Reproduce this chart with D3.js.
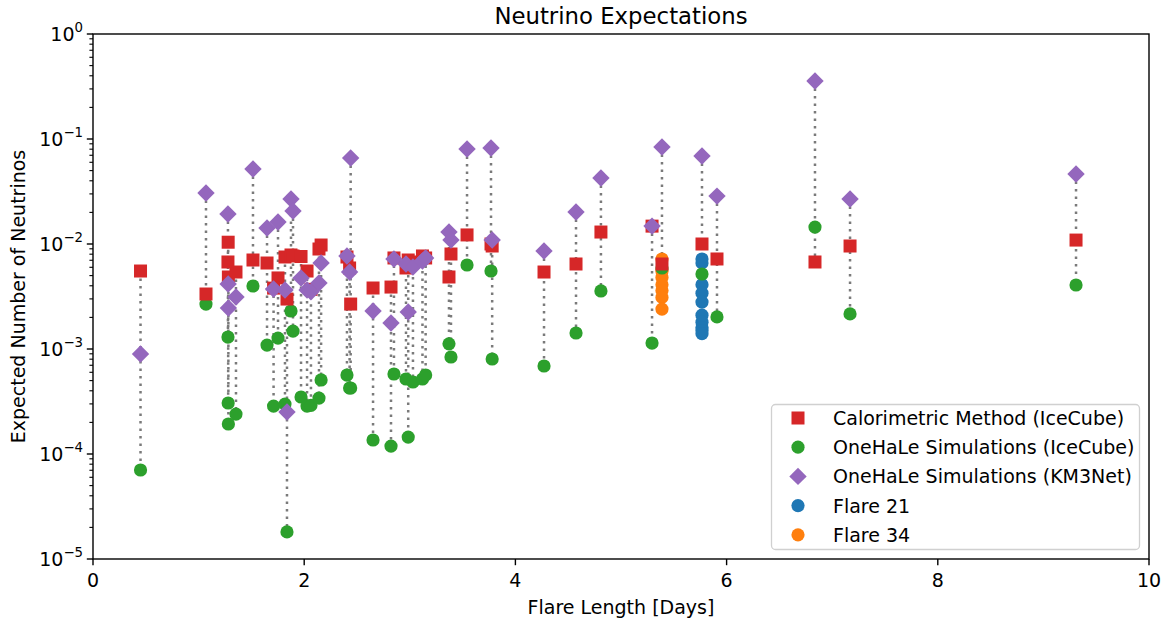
<!DOCTYPE html>
<html>
<head>
<meta charset="utf-8">
<script src="https://cdn.jsdelivr.net/npm/d3@7"></script>
<style>
  html, body { margin: 0; padding: 0; background: #fff; }
  svg { display: block; font-family: "DejaVu Sans", sans-serif; }
</style>
</head>
<body>
<svg id="chart" width="1168" height="618"></svg>
<script>
// ---------------- data ----------------
const flareLength = [0.45, 1.07, 1.278, 1.28, 1.282, 1.354, 1.515, 1.648, 1.752, 1.71,
  1.818, 1.837, 1.875, 1.894, 1.97, 2.027, 2.064, 2.14, 2.16, 2.405,
  2.43, 2.44, 2.652, 2.822, 2.85, 2.964, 2.985, 3.03, 3.12, 3.15,
  3.371, 3.39, 3.542, 3.769, 3.78, 4.271, 4.574, 4.81, 5.294, 5.388,
  5.767, 5.909, 6.837, 7.169, 9.309];
const calorimetric = [5.53e-3, 3.34e-3, 6.74e-3, 1.04e-2, 4.85e-3, 5.41e-3, 7.04e-3, 6.59e-3, 4.75e-3, 3.8e-3,
  7.52e-3, 2.99e-3, 7.86e-3, 7.69e-3, 7.6e-3, 5.53e-3, 3.7e-3, 8.96e-3, 9.78e-3, 7.52e-3,
  5.91e-3, 2.68e-3, 3.81e-3, 3.89e-3, 7.36e-3, 5.91e-3, 7.04e-3, 6.74e-3, 7.69e-3, 7.36e-3,
  4.85e-3, 8.03e-3, 1.22e-2, 1.0e-2, 9.57e-3, 5.41e-3, 6.45e-3, 1.30e-2, 1.48e-2, 6.45e-3,
  1.0e-2, 7.2e-3, 6.74e-3, 9.57e-3, 1.09e-2];
const oneHaLeIceCube = [7.04e-5, 2.68e-3, 1.30e-3, 3.06e-4, 1.93e-4, 2.40e-4, 3.98e-3, 1.09e-3, 1.27e-3, 2.86e-4,
  2.99e-4, 1.81e-5, 2.30e-3, 1.48e-3, 3.49e-4, 2.86e-4, 2.9e-4, 3.41e-4, 5.07e-4, 5.65e-4,
  4.25e-4, 4.25e-4, 1.36e-4, 1.19e-4, 5.78e-4, 5.18e-4, 1.45e-4, 4.85e-4, 5.18e-4, 5.65e-4,
  1.12e-3, 8.39e-4, 6.31e-3, 5.53e-3, 8.03e-4, 6.89e-4, 1.42e-3, 3.57e-3, 1.14e-3, 5.91e-3,
  5.18e-3, 2.02e-3, 1.45e-2, 2.16e-3, 4.07e-3];
const oneHaLeKM3Net = [8.96e-4, 3.06e-2, 1.93e-2, 4.16e-3, 2.46e-3, 3.13e-3, 5.18e-2, 1.42e-2, 1.62e-2, 3.73e-3,
  3.65e-3, 2.51e-4, 2.68e-2, 2.06e-2, 4.75e-3, 3.65e-3, 3.5e-3, 4.25e-3, 6.59e-3, 7.69e-3,
  5.41e-3, 6.59e-2, 2.30e-3, 1.77e-3, 7.2e-3, 6.45e-3, 2.25e-3, 6.04e-3, 6.89e-3, 7.36e-3,
  1.30e-2, 1.09e-2, 8.03e-2, 8.21e-2, 1.09e-2, 8.58e-3, 2.02e-2, 4.25e-2, 1.48e-2, 8.39e-2,
  6.89e-2, 2.86e-2, 0.357, 2.68e-2, 4.64e-2];
const flare21Length = 5.767;
const flare21Values = [7.2e-3, 6.6e-3, 4.1e-3, 3.4e-3, 2.8e-3, 2.1e-3, 1.8e-3, 1.6e-3, 1.5e-3, 1.4e-3];
const flare34Length = 5.388;
const flare34Values = [7.2e-3, 5.5e-3, 4.8e-3, 4.1e-3, 3.6e-3, 3.1e-3, 2.4e-3];
const xTicks = [0, 2, 4, 6, 8, 10];
const yTickExps = [0, -1, -2, -3, -4, -5];
const legendLabels = ["Calorimetric Method (IceCube)", "OneHaLe Simulations (IceCube)",
  "OneHaLe Simulations (KM3Net)", "Flare 21", "Flare 34"];

// ---------------- layout ----------------
const colors = { red: "#d62728", green: "#2ca02c", purple: "#9467bd", blue: "#1f77b4", orange: "#ff7f0e" };
const L = 93, R = 1149, T = 34, B = 559;
const FS = 19;
const svg = d3.select("#chart");
const x = d3.scaleLinear().domain([0, 10]).range([L, R]);
const y = d3.scaleLog().domain([1e-5, 1]).range([B, T]);

const flares = flareLength.map((d, i) => ({
  x: d, cal: calorimetric[i], ic: oneHaLeIceCube[i], km: oneHaLeKM3Net[i]
}));

const plot = svg.append("g");
plot.selectAll("line.conn").data(flares).join("line")
  .attr("class", "conn")
  .attr("x1", d => x(d.x)).attr("x2", d => x(d.x))
  .attr("y1", d => y(Math.max(d.cal, d.ic, d.km)))
  .attr("y2", d => y(Math.min(d.cal, d.ic, d.km)))
  .attr("stroke", "#7a7a7a").attr("stroke-width", 2.5)
  .attr("stroke-dasharray", "2.5,5");

const R_CIRC = 6.6, SQ = 13;
function circle(g, cx, cy, c) {
  g.append("circle").attr("cx", cx).attr("cy", cy).attr("r", R_CIRC).attr("fill", c);
}
function square(g, cx, cy, c) {
  g.append("rect").attr("x", cx - SQ / 2).attr("y", cy - SQ / 2).attr("width", SQ).attr("height", SQ).attr("fill", c);
}
function diamond(g, cx, cy, c) {
  const r = 8.7;
  g.append("path").attr("d", `M${cx},${cy - r}L${cx + r},${cy}L${cx},${cy + r}L${cx - r},${cy}Z`)
    .attr("fill", c);
}

flare21Values.forEach(v => circle(plot, x(flare21Length), y(v), colors.blue));
flare34Values.forEach(v => circle(plot, x(flare34Length), y(v), colors.orange));
flares.forEach(d => circle(plot, x(d.x), y(d.ic), colors.green));
flares.forEach(d => square(plot, x(d.x), y(d.cal), colors.red));
flares.forEach(d => diamond(plot, x(d.x), y(d.km), colors.purple));

// ---------------- axes ----------------
const axes = svg.append("g").attr("font-size", FS).attr("fill", "#000");
axes.append("rect").attr("x", L).attr("y", T).attr("width", R - L).attr("height", B - T)
  .attr("fill", "none").attr("stroke", "#000").attr("stroke-width", 1.4);

xTicks.forEach(t => {
  axes.append("line").attr("x1", x(t)).attr("x2", x(t)).attr("y1", B).attr("y2", B + 6.2)
    .attr("stroke", "#000").attr("stroke-width", 1.4);
  axes.append("text").attr("x", x(t)).attr("y", B + 28).attr("text-anchor", "middle").text(t);
});
yTickExps.forEach(e => {
  const v = Math.pow(10, e);
  axes.append("line").attr("x1", L - 6.2).attr("x2", L).attr("y1", y(v)).attr("y2", y(v))
    .attr("stroke", "#000").attr("stroke-width", 1.4);
  const t = axes.append("text").attr("x", L - 10).attr("y", y(v) + 7).attr("text-anchor", "end");
  t.append("tspan").text("10");
  t.append("tspan").attr("dy", -9).attr("font-size", 13.3).text(e === 0 ? "0" : "\u2212" + Math.abs(e));
  if (e > -5) {
    for (let k = 2; k <= 9; k++) {
      const mv = k * Math.pow(10, e - 1);
      axes.append("line").attr("x1", L - 3.6).attr("x2", L).attr("y1", y(mv)).attr("y2", y(mv))
        .attr("stroke", "#000").attr("stroke-width", 1.1);
    }
  }
});

svg.append("text").attr("x", (L + R) / 2).attr("y", 24).attr("text-anchor", "middle")
  .attr("font-size", 22.8).text("Neutrino Expectations");
svg.append("text").attr("x", (L + R) / 2).attr("y", 614).attr("text-anchor", "middle")
  .attr("font-size", FS).text("Flare Length [Days]");
svg.append("text").attr("transform", `translate(25,${(T + B) / 2}) rotate(-90)`)
  .attr("text-anchor", "middle").attr("font-size", FS).text("Expected Number of Neutrinos");

// ---------------- legend ----------------
const lg = svg.append("g");
lg.append("rect").attr("x", 771.5).attr("y", 404.5).attr("width", 368).attr("height", 145)
  .attr("rx", 4).attr("fill", "#fff").attr("fill-opacity", 0.8)
  .attr("stroke", "#d0d0d0").attr("stroke-width", 1.3);
const legendMarkers = [
  (g, cx, cy) => square(g, cx, cy, colors.red),
  (g, cx, cy) => circle(g, cx, cy, colors.green),
  (g, cx, cy) => diamond(g, cx, cy, colors.purple),
  (g, cx, cy) => circle(g, cx, cy, colors.blue),
  (g, cx, cy) => circle(g, cx, cy, colors.orange)
];
legendLabels.forEach((lab, i) => {
  const cy = 418 + i * 29.2;
  legendMarkers[i](lg, 798, cy);
  lg.append("text").attr("x", 833).attr("y", cy + 7).attr("font-size", FS).text(lab);
});
</script>
</body>
</html>
